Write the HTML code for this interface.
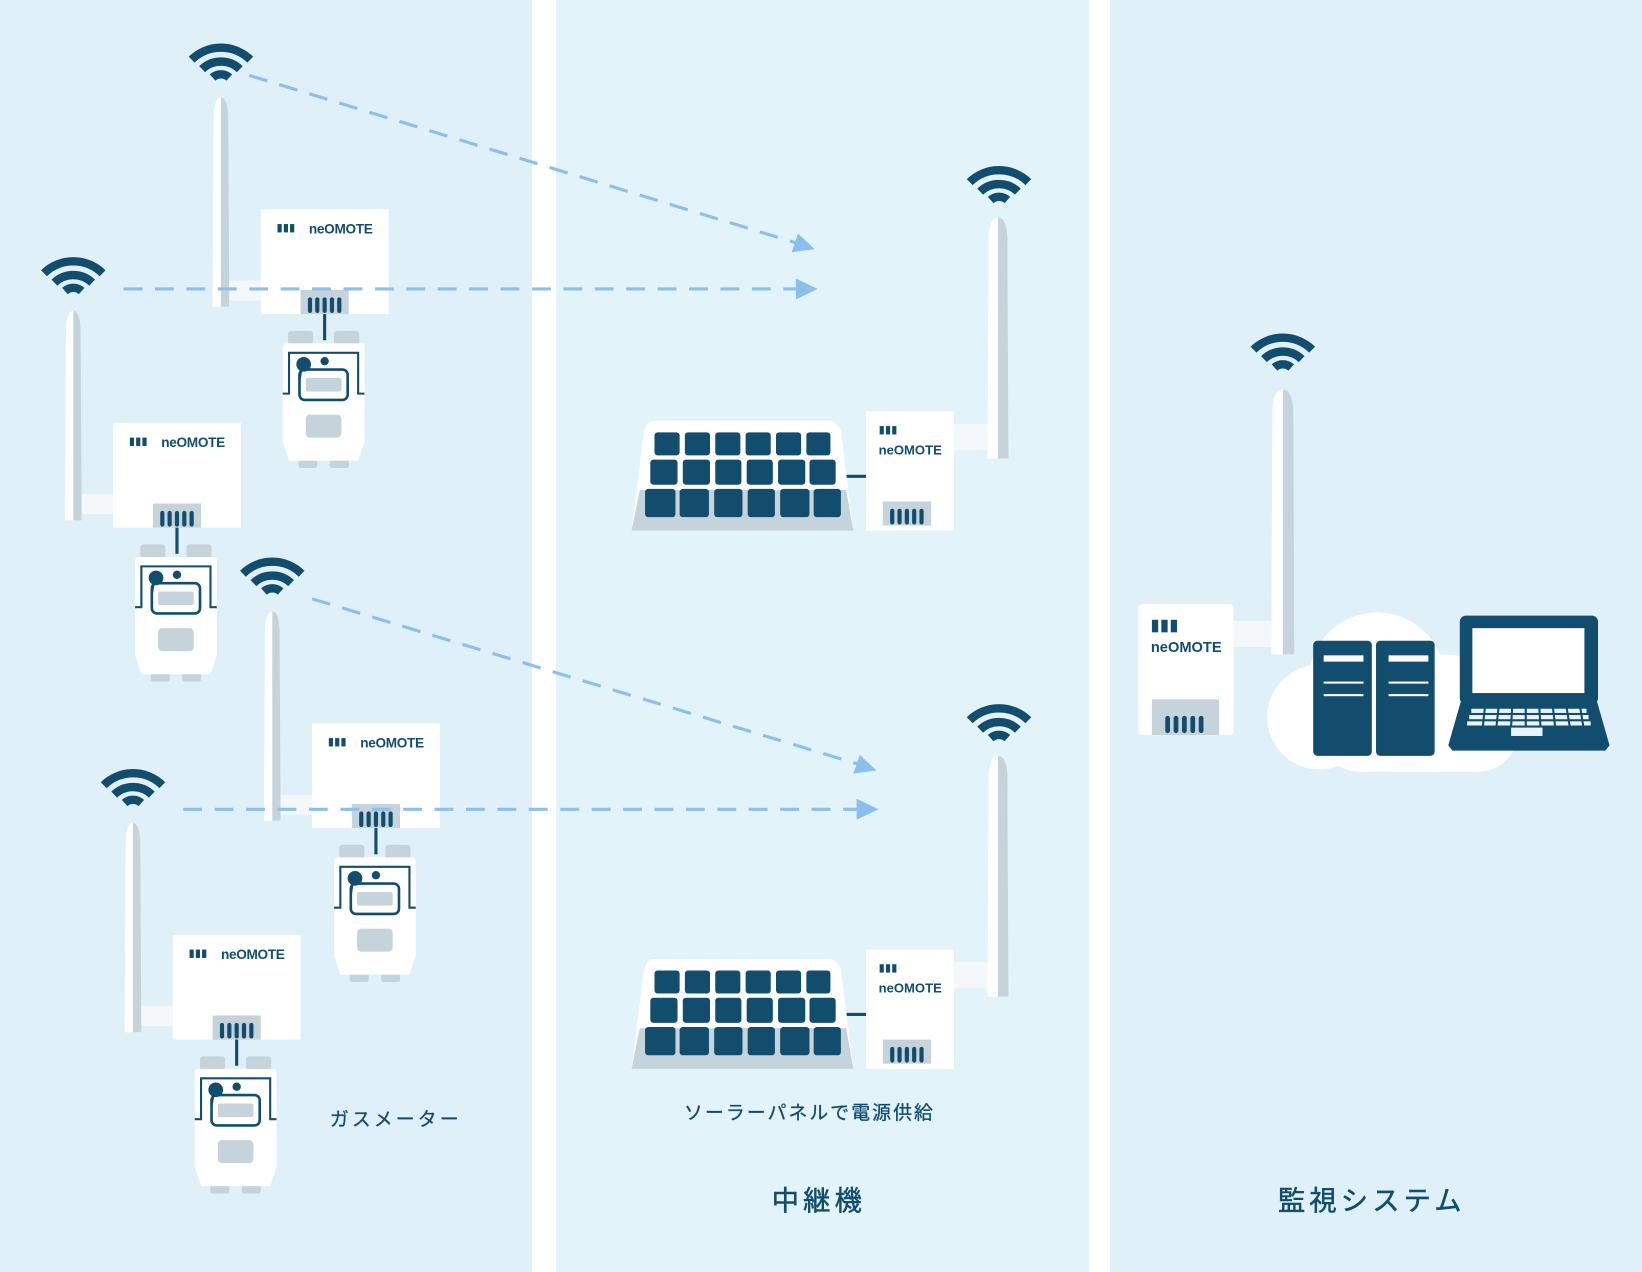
<!DOCTYPE html>
<html><head><meta charset="utf-8"><style>
html,body{margin:0;padding:0;width:1642px;height:1272px;overflow:hidden;background:#fff}
svg{display:block}
text{font-family:"Liberation Sans","Noto Sans CJK JP",sans-serif;fill:#124d6e}
</style></head><body>
<svg width="1642" height="1272" viewBox="0 0 1568 1215" preserveAspectRatio="none" xmlns="http://www.w3.org/2000/svg">
<defs>
<g id="wifi">
 <path d="M-28,-6 A40,40 0 0 1 28,-6" stroke="#124d6e" stroke-width="8" fill="none"/>
 <path d="M-18,3 A26,26 0 0 1 18,3" stroke="#124d6e" stroke-width="8" fill="none"/>
 <path d="M-8,11 A12,12 0 0 1 8,11" stroke="#124d6e" stroke-width="8" fill="none"/>
</g>
<g id="logo">
 <rect x="0" y="0" width="4" height="8" fill="#124d6e"/><rect x="6" y="0" width="4" height="8" fill="#124d6e"/><rect x="12" y="0" width="4" height="8" fill="#124d6e"/>
</g>
<g id="conn">
 <rect x="0" y="0" width="46" height="23" fill="#c5d3da"/>
 <g stroke="#124d6e" stroke-width="4" stroke-linecap="round">
  <line x1="9" y1="9" x2="9" y2="20"/><line x1="16" y1="9" x2="16" y2="20"/><line x1="23" y1="9" x2="23" y2="20"/><line x1="30" y1="9" x2="30" y2="20"/><line x1="37" y1="9" x2="37" y2="20"/>
 </g>
</g>
<g id="unit">
 <use href="#wifi" x="-38" y="-137"/>
 <path d="M-46,93 L-45,-90 Q-44,-107 -38,-107 Q-32,-107 -31,-90 L-30,93 Z" fill="#fff"/>
 <path d="M-38,93 L-38,-107 Q-32,-107 -31,-90 L-30,93 Z" fill="#c5d3da"/>
 <rect x="-30" y="68" width="30" height="19" fill="#f4f8fa"/>
 <rect x="0" y="0" width="122" height="100" fill="#fff"/>
 <use href="#logo" x="16" y="14"/>
 <text x="46" y="23" font-size="13" font-weight="bold" letter-spacing="-0.3">neOMOTE</text>
 <use href="#conn" x="38" y="77"/>
 <line x1="61" y1="100" x2="61" y2="125" stroke="#124d6e" stroke-width="3"/>
 <rect x="26" y="116" width="24" height="13" rx="3" fill="#c5d3da"/>
 <rect x="70" y="116" width="24" height="13" rx="3" fill="#c5d3da"/>
 <rect x="36" y="236" width="18" height="11" rx="2" fill="#c5d3da"/>
 <rect x="66" y="236" width="18" height="11" rx="2" fill="#c5d3da"/>
 <path d="M25,128 L97,128 Q99,128 99,132 L99,222 L93,240 L27,240 L21,222 L21,132 Q21,128 25,128 Z" fill="#fff"/>
 <path d="M21,176 L27,176 L27,137 L93,137 L93,176 L99,176" stroke="#124d6e" stroke-width="2" fill="none"/>
 <rect x="37" y="153" width="46" height="29" rx="5" stroke="#124d6e" stroke-width="2.5" fill="none"/>
 <rect x="43" y="161" width="34" height="13" rx="2" fill="#c5d3da"/>
 <circle cx="41" cy="148" r="7" fill="#124d6e"/>
 <circle cx="61" cy="145" r="4" fill="#124d6e"/>
 <line x1="39" y1="150" x2="37" y2="162" stroke="#124d6e" stroke-width="2.5"/>
 <rect x="43" y="196" width="34" height="22" rx="4" fill="#c5d3da"/>
</g>
<g id="rep">
 <use href="#wifi" x="351" y="-222"/>
 <path d="M340,36 L341,-176 Q342,-194 350,-194 Q358,-194 359,-176 L360,36 Z" fill="#fff"/>
 <path d="M350,36 L350,-194 Q358,-194 359,-176 L360,36 Z" fill="#c5d3da"/>
 <rect x="308" y="3" width="32" height="25" fill="#f4f8fa"/>
 <line x1="205" y1="53" x2="224" y2="53" stroke="#124d6e" stroke-width="3"/>
 <rect x="224" y="-9" width="84" height="114" fill="#fff"/>
 <use href="#logo" x="237" y="5"/>
 <text x="236" y="32" font-size="12.5" font-weight="bold">neOMOTE</text>
 <use href="#conn" x="240" y="77"/>
 <path d="M22,0 L187,0 Q197,0 200,10 L212,105 L0,105 L12,10 Q15,0 22,0 Z" fill="#fff"/>
 <path d="M8,66 L205,66 L212,105 L0,105 Z" fill="#c5d3da"/>
 <g fill="#124d6e">
  <rect x="22" y="11" width="24" height="22" rx="3"/><rect x="51" y="11" width="24" height="22" rx="3"/><rect x="80" y="11" width="24" height="22" rx="3"/><rect x="109" y="11" width="24" height="22" rx="3"/><rect x="138" y="11" width="24" height="22" rx="3"/><rect x="167" y="11" width="23" height="22" rx="3"/>
  <rect x="18" y="37" width="26" height="24" rx="3"/><rect x="49" y="37" width="26" height="24" rx="3"/><rect x="80" y="37" width="25" height="24" rx="3"/><rect x="110" y="37" width="25" height="24" rx="3"/><rect x="140" y="37" width="26" height="24" rx="3"/><rect x="170" y="37" width="25" height="24" rx="3"/>
  <rect x="13" y="65" width="29" height="27" rx="3"/><rect x="46" y="65" width="28" height="27" rx="3"/><rect x="79" y="65" width="27" height="27" rx="3"/><rect x="111" y="65" width="26" height="27" rx="3"/><rect x="142" y="65" width="28" height="27" rx="3"/><rect x="174" y="65" width="26" height="27" rx="3"/>
 </g>
</g>
</defs>

<rect x="0" y="0" width="508" height="1215" fill="#dff0f8"/>
<rect x="508" y="0" width="23" height="1215" fill="#fff"/>
<rect x="531" y="0" width="509" height="1215" fill="#e2f3fa"/>
<rect x="1040" y="0" width="20" height="1215" fill="#fff"/>
<rect x="1060" y="0" width="508" height="1215" fill="#dff0f8"/>

<use href="#rep" x="603" y="402"/>
<use href="#rep" x="603" y="916"/>

<use href="#unit" x="249" y="200"/>
<use href="#unit" x="108" y="404"/>
<use href="#unit" x="298" y="691"/>
<use href="#unit" x="165" y="893"/>

<g stroke="#8cc0ec" stroke-width="3" stroke-dasharray="18 12" fill="none">
 <line x1="238" y1="72" x2="760" y2="232"/>
 <line x1="118" y1="276" x2="762" y2="276"/>
 <line x1="298" y1="572" x2="820" y2="730"/>
 <line x1="175" y1="773" x2="820" y2="773"/>
</g>
<g fill="#8cc0ec">
 <polygon points="778,238 756,241 762,223"/>
 <polygon points="781,276 760,266 760,286"/>
 <polygon points="837,736 815,739 821,721"/>
 <polygon points="839,773 818,763 818,783"/>
</g>

<use href="#wifi" x="1225" y="340"/>
<path d="M1214,625 L1215,392 Q1216,372 1225,372 Q1234,372 1235,392 L1236,625 Z" fill="#fff"/>
<path d="M1225,625 L1225,372 Q1234,372 1235,392 L1236,625 Z" fill="#c5d3da"/>
<rect x="1178" y="593" width="36" height="25" fill="#f4f8fa"/>
<rect x="1087" y="577" width="91" height="125" fill="#fff" rx="3"/>
<rect x="1100" y="592" width="6" height="12" fill="#124d6e"/><rect x="1109" y="592" width="6" height="12" fill="#124d6e"/><rect x="1118" y="592" width="6" height="12" fill="#124d6e"/>
<text x="1099" y="623" font-size="14" font-weight="bold">neOMOTE</text>
<rect x="1100" y="668" width="64" height="34" fill="#c5d3da"/>
<g stroke="#124d6e" stroke-width="4.5" stroke-linecap="round">
 <line x1="1115" y1="686" x2="1115" y2="698"/><line x1="1123" y1="686" x2="1123" y2="698"/><line x1="1131" y1="686" x2="1131" y2="698"/><line x1="1139" y1="686" x2="1139" y2="698"/><line x1="1147" y1="686" x2="1147" y2="698"/>
</g>
<g fill="#fff">
 <circle cx="1315" cy="650" r="65"/>
 <circle cx="1260" cy="685" r="50"/>
 <circle cx="1380" cy="680" r="55"/>
 <rect x="1260" y="660" width="190" height="77" rx="38"/>
</g>
<g fill="#124d6e">
 <rect x="1254" y="612" width="56" height="110" rx="4"/>
 <rect x="1314" y="612" width="56" height="110" rx="4"/>
</g>
<g fill="#fff">
 <rect x="1264" y="626" width="38" height="6"/><rect x="1264" y="651" width="38" height="2"/><rect x="1264" y="663" width="38" height="2"/>
 <rect x="1326" y="626" width="38" height="6"/><rect x="1326" y="651" width="38" height="2"/><rect x="1326" y="663" width="38" height="2"/>
</g>
<rect x="1394" y="588" width="132" height="85" rx="6" fill="#124d6e"/>
<rect x="1406" y="600" width="107" height="62" fill="#fff"/>
<path d="M1395,670 L1525,670 L1537,712 L1533,717 L1387,717 L1383,712 Z" fill="#124d6e"/>
<g fill="#e8f4fa">
 <rect x="1405" y="677" width="110" height="4"/>
 <rect x="1403" y="683" width="114" height="4"/>
 <rect x="1401" y="689" width="118" height="4"/>
 <rect x="1443" y="695" width="30" height="8"/>
</g>
<g stroke="#124d6e" stroke-width="2">
 <line x1="1418" y1="676" x2="1416" y2="694"/><line x1="1431" y1="676" x2="1429" y2="694"/><line x1="1444" y1="676" x2="1443" y2="694"/><line x1="1457" y1="676" x2="1457" y2="694"/><line x1="1470" y1="676" x2="1471" y2="694"/><line x1="1483" y1="676" x2="1485" y2="694"/><line x1="1496" y1="676" x2="1499" y2="694"/><line x1="1509" y1="676" x2="1512" y2="694"/>
</g>

<text x="315" y="1075" font-size="18" letter-spacing="3" stroke="#124d6e" stroke-width="0.3">ガスメーター</text>
<text x="773" y="1069" font-size="18" letter-spacing="2" text-anchor="middle" stroke="#124d6e" stroke-width="0.3">ソーラーパネルで電源供給</text>
<text x="782" y="1156" font-size="26" letter-spacing="4" text-anchor="middle" stroke="#124d6e" stroke-width="0.5">中継機</text>
<text x="1310" y="1156" font-size="26" letter-spacing="4" text-anchor="middle" stroke="#124d6e" stroke-width="0.5">監視システム</text>
</svg>
</body></html>
